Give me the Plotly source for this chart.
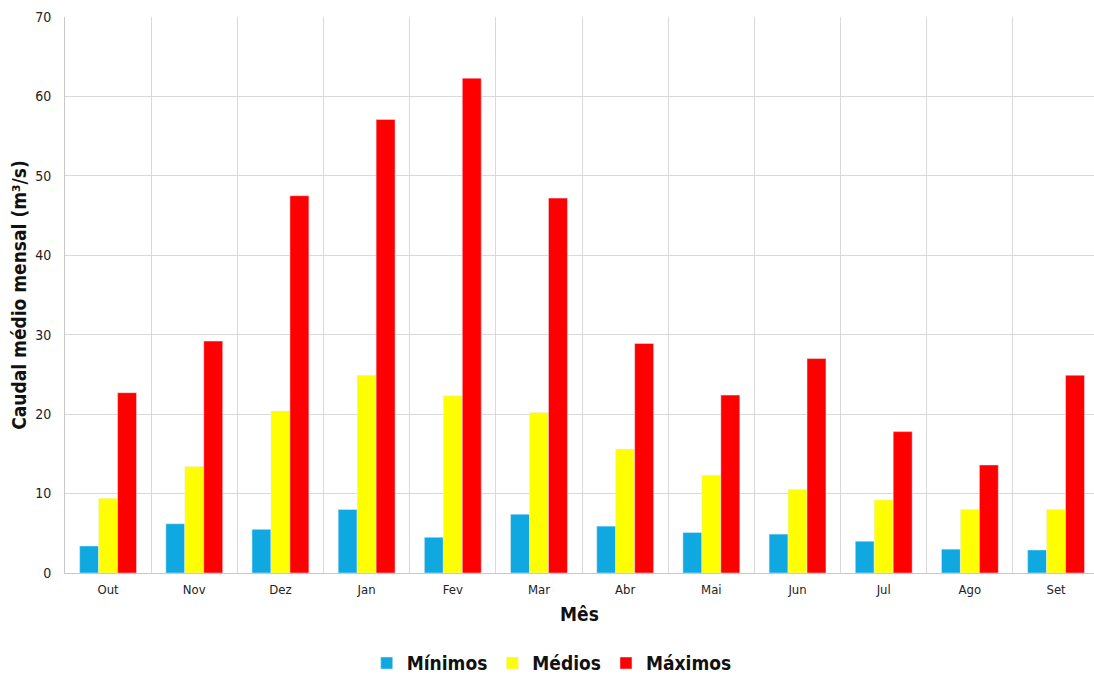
import plotly.graph_objects as go

months = ["Out", "Nov", "Dez", "Jan", "Fev", "Mar", "Abr", "Mai", "Jun", "Jul", "Ago", "Set"]
minimos = [3.4, 6.2, 5.5, 8.0, 4.5, 7.4, 5.9, 5.1, 4.9, 4.0, 3.0, 2.9]
medios = [9.4, 13.4, 20.4, 24.9, 22.3, 20.2, 15.6, 12.3, 10.5, 9.2, 8.0, 8.0]
maximos = [22.7, 29.2, 47.5, 57.1, 62.3, 47.2, 28.9, 22.4, 27.0, 17.8, 13.6, 24.9]
y_ticks = [0, 10, 20, 30, 40, 50, 60, 70]

font_family = "DejaVu Sans Condensed, DejaVu Sans, sans-serif"

fig = go.Figure()
fig.add_trace(go.Bar(name="<b>Mínimos</b>", x=months, y=minimos, marker_color="#0fa8e0"))
fig.add_trace(go.Bar(name="<b>Médios</b>", x=months, y=medios, marker_color="#ffff00"))
fig.add_trace(go.Bar(name="<b>Máximos</b>", x=months, y=maximos, marker_color="#ff0000"))

fig.update_layout(
    width=1094, height=675,
    margin=dict(l=65, r=0, t=17, b=102, autoexpand=False),
    paper_bgcolor="white", plot_bgcolor="white",
    barmode="group", bargap=0.34, bargroupgap=0,
    font=dict(family=font_family, size=13, color="#222222"),
    showlegend=True,
    legend=dict(orientation="h", x=0.473, xanchor="center", y=-0.128, yanchor="top",
                font=dict(family=font_family, size=19, color="#111111"),
                itemwidth=30, tracegroupgap=0),
    xaxis=dict(
        type="category", range=[-0.5, 11.44], automargin=False,
        tickson="boundaries", ticks="", showgrid=True, gridcolor="#d9d9d9", gridwidth=1,
        showline=True, linecolor="#c8c8c8", linewidth=1,
        ticklabelstandoff=4,
        tickfont=dict(size=13, color="#222222"),
        title=dict(text="<b>Mês</b>", font=dict(size=19, color="#111111"), standoff=12),
    ),
    yaxis=dict(
        range=[0, 70], tickvals=y_ticks, showgrid=True, gridcolor="#d9d9d9", gridwidth=1,
        zeroline=False, showline=True, linecolor="#c8c8c8", linewidth=1, automargin=False,
        ticks="", ticklabelstandoff=10,
        tickfont=dict(size=14, color="#222222"),
        title=dict(text="<b>Caudal médio mensal (m³/s)</b>", font=dict(size=19, color="#111111"), standoff=3),
    ),
)

fig.write_html("out.html")
